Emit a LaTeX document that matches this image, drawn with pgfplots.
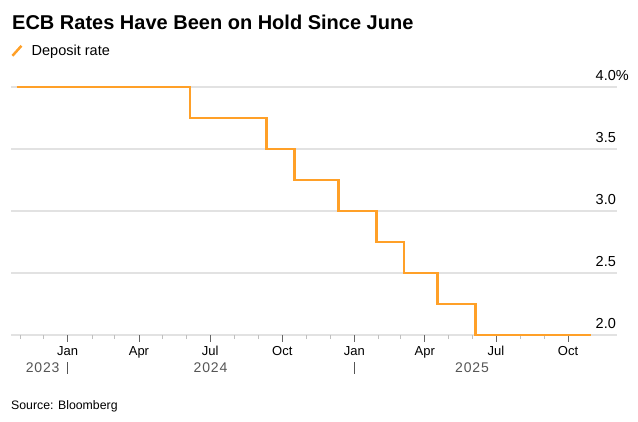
\documentclass[border=0pt]{standalone}
\usepackage{fontspec}
\setmainfont{Liberation Sans}
\newfontfamily\yearfont[LetterSpace=6]{Liberation Sans}
\usepackage{pgfplots}
\pgfplotsset{compat=1.18}

\definecolor{bbgorange}{HTML}{FFA028}
\definecolor{gridgray}{HTML}{E2E2E2}
\definecolor{yeargray}{HTML}{555555}

\begin{document}
\begin{tikzpicture}
  % page = 638 x 421, plot area lower left at (0,0)
  \path[use as bounding box] (-11pt,-86pt) rectangle (627pt,335pt);
  \begin{axis}[
      at={(0,0)}, anchor=south west,
      scale only axis,
      width=606pt, height=248pt,
      % x = days since 1 Jan 2024
      xmin=-72.4, xmax=701.5,
      ymin=2, ymax=4,
      clip=false,
      axis line style={draw=none},
      ymajorgrids,
      major grid style={draw=gridgray, line width=1.3pt},
      xtick={0,91,182,274,366,456,547,639},
      xticklabels={Jan,Apr,Jul,Oct,Jan,Apr,Jul,Oct},
      minor xtick={-61,-31,31,60,121,152,213,244,305,335,397,425,486,517,578,609},
      xtick pos=bottom,
      tick align=outside,
      major tick length=6.5pt,
      minor tick length=4pt,
      major x tick style={draw=black!60, line width=0.9pt},
      minor x tick style={draw=black!25, line width=0.8pt},
      xticklabel style={font=\fontsize{13}{15}\selectfont, anchor=base, inner sep=0pt, yshift=-13.5pt},
      ytick={2,2.5,3,3.5,4},
      yticklabels={2.0,2.5,3.0,3.5,4.0\%},
      yticklabel pos=right,
      ytick style={draw=none},
      yticklabel style={font=\fontsize{14.5}{16}\selectfont, anchor=base west, inner sep=0pt,
        xshift=-28pt, yshift=7pt},
      legend style={at={(rel axis cs:0,1)}, anchor=south west, draw=none, fill=none,
        inner sep=0pt, xshift=0pt, yshift=28pt,
        font=\fontsize{14.5}{17}\selectfont,
        /tikz/every odd column/.append style={column sep=7pt}},
      legend cell align=left,
      legend image code/.code={\draw[line width=2.5pt] (0pt,-5pt) -- (9pt,5pt);},
    ]
    \addplot[const plot, color=bbgorange, line width=2.7pt] coordinates {
      (-65.1,4.00)
      (156.2,3.75)
      (254.2,3.50)
      (289.4,3.25)
      (345.6,3.00)
      (394.3,2.75)
      (429.5,2.50)
      (472.0,2.25)
      (521.1,2.00)
      (668.0,2.00)
    };
    \addlegendentry{Deposit rate}

    % year labels under the month ticks
    \node[font=\yearfont\fontsize{14}{16}\selectfont, text=yeargray, anchor=base, yshift=-37.7pt, inner sep=0pt] at (axis cs:-32,2) {2023};
    \node[font=\yearfont\fontsize{14}{16}\selectfont, text=yeargray, anchor=base, yshift=-37.7pt, inner sep=0pt] at (axis cs:182.4,2) {2024};
    \node[font=\yearfont\fontsize{14}{16}\selectfont, text=yeargray, anchor=base, yshift=-37.7pt, inner sep=0pt] at (axis cs:516.3,2) {2025};
    \draw[yeargray, line width=0.8pt] ([yshift=-27pt]axis cs:0,2) -- ([yshift=-39pt]axis cs:0,2);
    \draw[yeargray, line width=0.8pt] ([yshift=-27pt]axis cs:366,2) -- ([yshift=-39pt]axis cs:366,2);
  \end{axis}

  \node[anchor=base west, inner sep=0pt, font=\bfseries\fontsize{20}{22}\selectfont] at (1pt,305pt)
    {ECB Rates Have Been on Hold Since June};
  \node[anchor=base west, inner sep=0pt, font=\fontsize{12.3}{15}\selectfont] at (0pt,-74pt)
    {Source: Bloomberg};
\end{tikzpicture}
\end{document}
